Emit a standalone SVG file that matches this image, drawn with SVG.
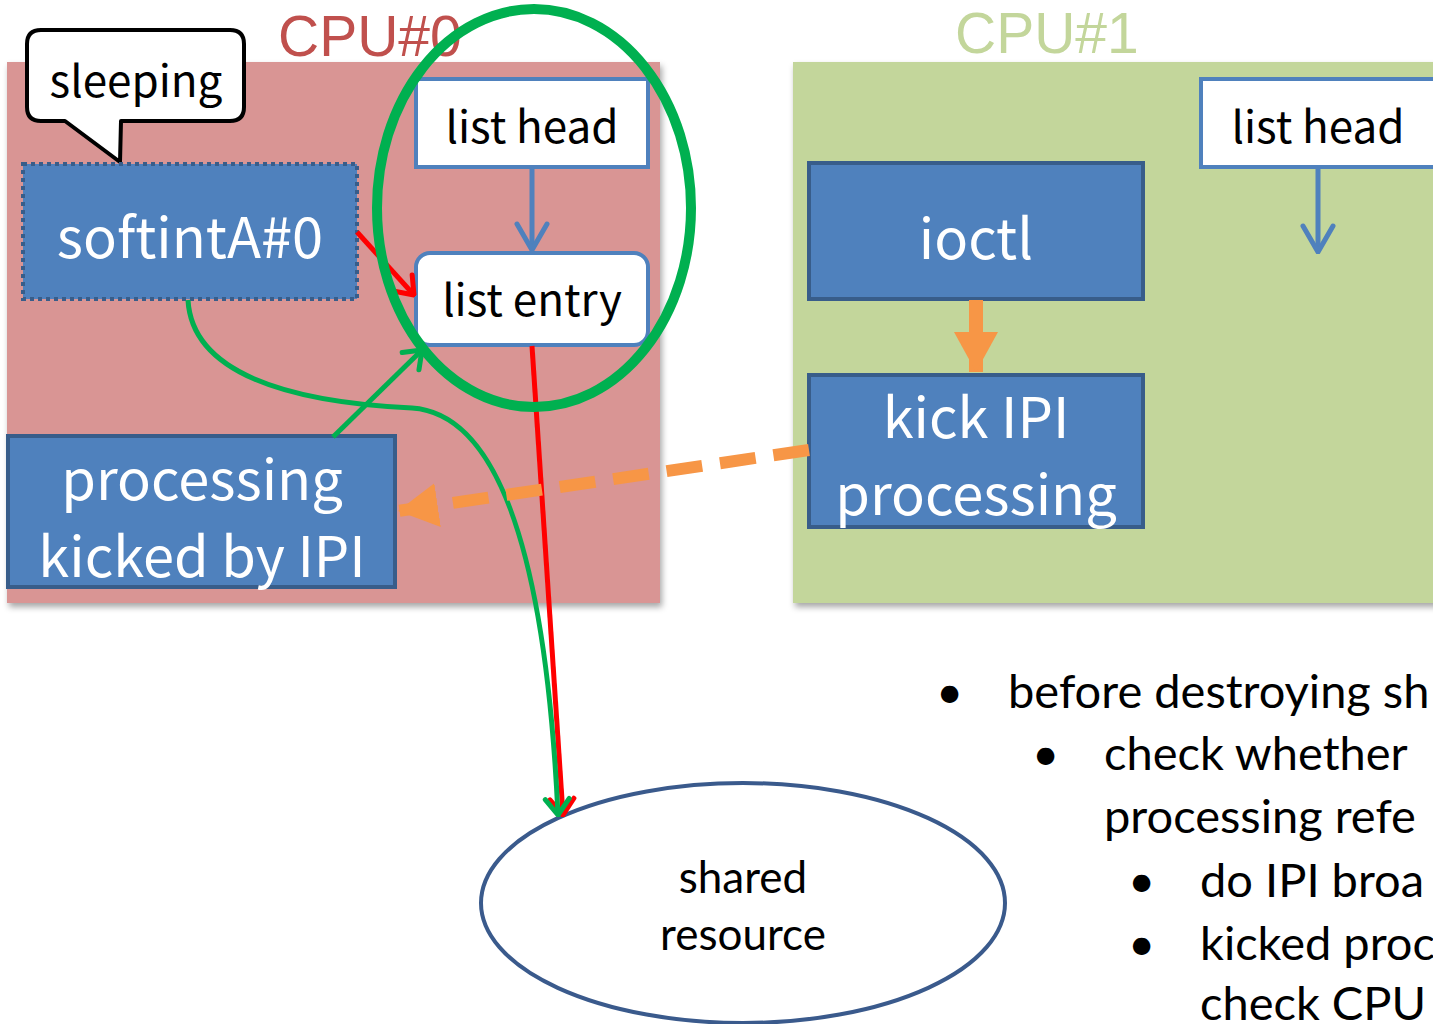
<svg xmlns="http://www.w3.org/2000/svg" width="1433" height="1024" viewBox="0 0 1433 1024">
  <style>
    .jp { font-family: "Noto Sans CJK JP", "DejaVu Sans", sans-serif; }
    .cal { font-family: Lato, "Liberation Sans", sans-serif; fill: #000; }
    .cpu { font-family: "Liberation Sans", Arial, sans-serif; font-size: 57px; }
    .proc { fill: #4f81bd; stroke: #385d8a; stroke-width: 4; }
    .item { fill: #fff; stroke: #4f81bd; stroke-width: 4; }
    .white { fill: #fff; font-size: 56px; text-anchor: middle; }
    .black { fill: #000; font-size: 44px; text-anchor: middle; }
  </style>
  <defs>
    <filter id="shadow" x="-5%" y="-5%" width="110%" height="115%">
      <feDropShadow dx="2" dy="4" stdDeviation="3" flood-color="#000" flood-opacity="0.35"/>
    </filter>
    <marker id="openBlue" viewBox="0 0 32 36" refX="30" refY="18" markerWidth="32" markerHeight="36" markerUnits="userSpaceOnUse" orient="auto">
      <polyline points="4,3 30,18 4,33" fill="none" stroke="#4f81bd" stroke-width="5" stroke-linecap="round" stroke-linejoin="round"/>
    </marker>
    <marker id="openRed" viewBox="0 0 30 30" refX="28" refY="15" markerWidth="30" markerHeight="30" markerUnits="userSpaceOnUse" orient="auto">
      <polyline points="12,3 28,15 12,27" fill="none" stroke="#ff0000" stroke-width="5" stroke-linecap="round" stroke-linejoin="round"/>
    </marker>
    <marker id="openGreen" viewBox="0 0 30 30" refX="28" refY="15" markerWidth="30" markerHeight="30" markerUnits="userSpaceOnUse" orient="auto">
      <polyline points="12,3 28,15 12,27" fill="none" stroke="#00b050" stroke-width="5" stroke-linecap="round" stroke-linejoin="round"/>
    </marker>
    <marker id="fillOrange" viewBox="0 0 40 44" refX="40" refY="22" markerWidth="40" markerHeight="44" markerUnits="userSpaceOnUse" orient="auto">
      <polygon points="0,0 40,22 0,44" fill="#f79646"/>
    </marker>
  </defs>

  <rect width="1433" height="1024" fill="#fff"/>

  <!-- CPU panels -->
  <g id="cpu0">
    <rect x="7" y="62" width="653" height="541" fill="#d99594" filter="url(#shadow)"/>
    <text class="cpu" x="278" y="56" fill="#c0504d">CPU#0</text>
  </g>
  <g id="cpu1">
    <rect x="793" y="62" width="660" height="541" fill="#c3d69b" filter="url(#shadow)"/>
    <text class="cpu" x="955" y="53" fill="#c3d69b">CPU#1</text>
  </g>

  <!-- CPU#0 nodes -->
  <g id="sleeping">
    <path d="M41,30 H230 Q244,30 244,44 V107 Q244,121 230,121 H121 L120,162 L65,121 H41 Q27,121 27,107 V44 Q27,30 41,30 Z" fill="#fff" stroke="#000" stroke-width="4" stroke-linejoin="round"/>
    <text class="jp black" x="136" y="97" font-size="41">sleeping</text>
  </g>
  <g id="softintA0">
    <rect x="23" y="164" width="334" height="135" fill="#4f81bd" stroke="#385d8a" stroke-width="4" stroke-dasharray="4 4"/>
    <text class="jp white" x="190" y="258">softintA#0</text>
  </g>
  <g id="listhead0">
    <rect class="item" x="416" y="79" width="232" height="88"/>
    <text class="jp black" x="532" y="143">list head</text>
  </g>
  <g id="listentry0">
    <rect class="item" x="416" y="253" width="232" height="92" rx="14"/>
    <text class="jp black" x="532" y="316">list entry</text>
  </g>
  <g id="kicked">
    <rect class="proc" x="8" y="436" width="387" height="151"/>
    <text class="jp white" x="202" y="500">processing</text>
    <text class="jp white" x="202" y="577" font-size="58">kicked by IPI</text>
  </g>

  <!-- CPU#1 nodes -->
  <g id="ioctl">
    <rect class="proc" x="809" y="163" width="334" height="136"/>
    <text class="jp white" x="976" y="259">ioctl</text>
  </g>
  <g id="kickipi">
    <rect class="proc" x="809" y="375" width="334" height="152"/>
    <text class="jp white" x="976" y="438">kick IPI</text>
    <text class="jp white" x="976" y="515">processing</text>
  </g>
  <g id="listhead1">
    <rect class="item" x="1201" y="79" width="240" height="88"/>
    <text class="jp black" x="1318" y="143">list head</text>
  </g>

  <!-- shared resource -->
  <g id="shared">
    <ellipse cx="743" cy="903" rx="262" ry="120" fill="#fff" stroke="#3a5a8c" stroke-width="4"/>
    <text class="cal" x="743" y="893" font-size="44" text-anchor="middle">shared</text>
    <text class="cal" x="743" y="950" font-size="44" text-anchor="middle">resource</text>
  </g>

  <!-- connectors -->
  <g id="connectors" fill="none">
    <line x1="532" y1="169" x2="532" y2="250" stroke="#4f81bd" stroke-width="5" marker-end="url(#openBlue)"/>
    <line x1="1318" y1="169" x2="1318" y2="252" stroke="#4f81bd" stroke-width="5" marker-end="url(#openBlue)"/>
    <line x1="357" y1="232" x2="414" y2="295" stroke="#ff0000" stroke-width="5" marker-end="url(#openRed)"/>
    <line x1="532" y1="346" x2="563" y2="815" stroke="#ff0000" stroke-width="5" marker-end="url(#openRed)"/>
    <path d="M188,300 C192,372 285,402 412,408 C500,414 546,560 558,815" stroke="#00b050" stroke-width="5" marker-end="url(#openGreen)"/>
    <line x1="333" y1="437" x2="422" y2="350" stroke="#00b050" stroke-width="5" marker-end="url(#openGreen)"/>
    <line x1="976" y1="300" x2="976" y2="372" stroke="#f79646" stroke-width="14" marker-end="url(#fillOrange)"/>
    <line x1="809" y1="450" x2="398" y2="511" stroke="#f79646" stroke-width="12" stroke-dasharray="36 18" marker-end="url(#fillOrange)"/>
  </g>

  <!-- highlight ring around the list -->
  <ellipse id="listring" cx="534" cy="208" rx="157" ry="199" fill="none" stroke="#00b050" stroke-width="10"/>

  <!-- notes -->
  <g id="notes" class="cal" font-size="47">
    <text x="936" y="708">•</text>
    <text x="1008" y="708">before destroying sh</text>
    <text x="1032" y="770">•</text>
    <text x="1104" y="770">check whether</text>
    <text x="1104" y="833">processing refe</text>
    <text x="1128" y="897">•</text>
    <text x="1200" y="897">do IPI broa</text>
    <text x="1128" y="960">•</text>
    <text x="1200" y="960">kicked proc</text>
    <text x="1200" y="1020">check CPU</text>
  </g>
</svg>
